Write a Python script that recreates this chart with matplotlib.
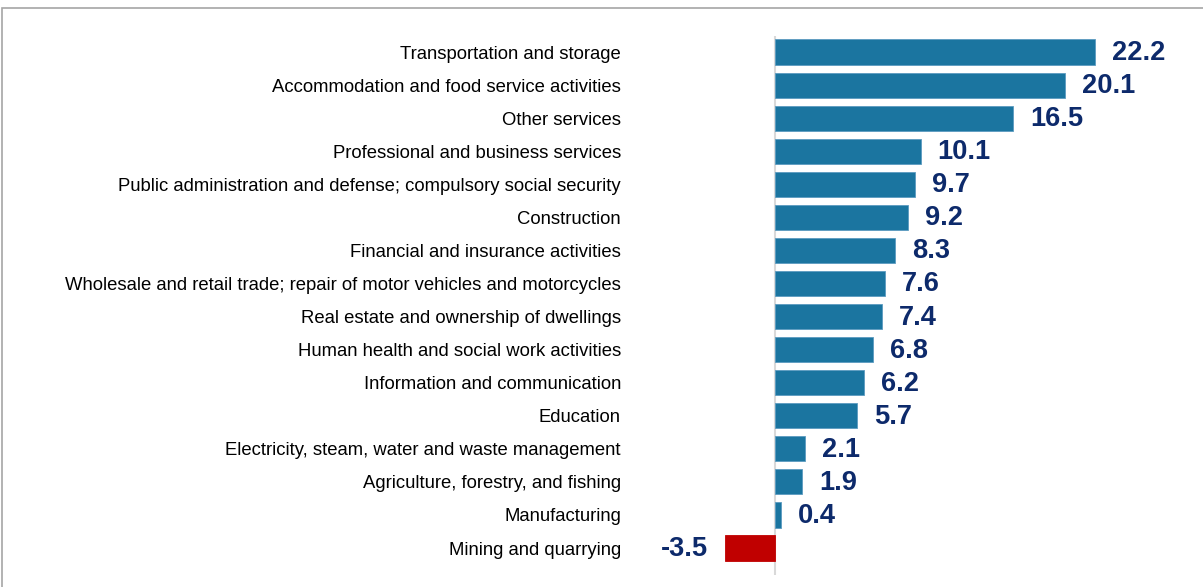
import matplotlib.pyplot as plt
from matplotlib.patches import Rectangle

plt.rcParams['font.family'] = ['Liberation Sans', 'DejaVu Sans']

categories = ['Transportation and storage',
              'Accommodation and food service activities',
              'Other services',
              'Professional and business services',
              'Public administration and defense; compulsory social security',
              'Construction',
              'Financial and insurance activities',
              'Wholesale and retail trade; repair of motor vehicles and motorcycles',
              'Real estate and ownership of dwellings',
              'Human health and social work activities',
              'Information and communication',
              'Education',
              'Electricity, steam, water and waste management',
              'Agriculture, forestry, and fishing',
              'Manufacturing',
              'Mining and quarrying']
values = [22.2, 20.1, 16.5, 10.1, 9.7, 9.2, 8.3, 7.6, 7.4, 6.8, 6.2, 5.7, 2.1, 1.9, 0.4, -3.5]

W, H = 1203, 587
fig = plt.figure(figsize=(W / 100, H / 100), dpi=100)

# axes placed in pixel units
ax_l, ax_r, ax_t, ax_b = 640, 1190, 35.5, 574.5
ax = fig.add_axes([ax_l / W, 1 - ax_b / H, (ax_r - ax_l) / W, (ax_b - ax_t) / H])

px_per_unit = 320 / 22.2
x0 = 775
ax.set_xlim((ax_l - x0) / px_per_unit, (ax_r - x0) / px_per_unit)
ax.set_ylim(15.8, -0.5)

pos = list(range(len(categories)))
colors = ['#C00000' if v < 0 else '#1B75A0' for v in values]
ax.barh(pos, values, height=0.76, color=colors,
        edgecolor=['#C00000' if v < 0 else '#5B9BC0' for v in values], linewidth=0.6, zorder=2)
ax.axvline(0, color='#D9D9D9', lw=1.5, zorder=1)

off = 17 / px_per_unit
for p, v in zip(pos, values):
    if v >= 0:
        ax.text(v + off, p + 0.03, f'{v:.1f}', ha='left', va='center', fontsize=19.6,
                fontweight='bold', color='#0D2A6B')
    else:
        ax.text(v - off, p + 0.03, f'{v:.1f}', ha='right', va='center', fontsize=19.6,
                fontweight='bold', color='#0D2A6B')

ax.set_yticks(pos)
ax.set_yticklabels(categories, fontsize=13.3, color='#000000')
ax.tick_params(axis='y', length=0, pad=13.7)
ax.set_xticks([])
for s in ax.spines.values():
    s.set_visible(False)

fig.patches.append(Rectangle((2 / W, -0.1), 1.2, 1 - 8 / H + 0.1, transform=fig.transFigure,
                             fill=False, edgecolor='#A6A6A6', lw=1.2))

fig.savefig('out.png', dpi=100)
